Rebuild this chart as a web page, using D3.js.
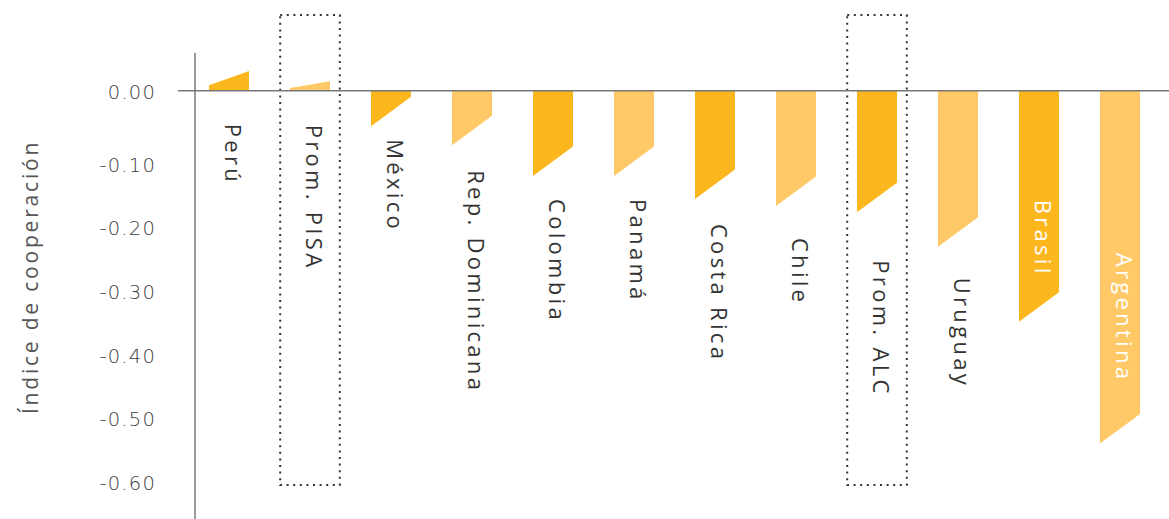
<!DOCTYPE html>
<html>
<head>
<meta charset="utf-8">
<script src="https://cdn.jsdelivr.net/npm/d3@7"></script>
<style>
  html, body { margin: 0; padding: 0; background: #ffffff; }
  svg { display: block; }
</style>
</head>
<body>
<svg id="chart" width="1169" height="519"></svg>
<script>
// ---- data ----
const categories = ["Perú", "Prom. PISA", "México", "Rep. Dominicana", "Colombia", "Panamá",
                    "Costa Rica", "Chile", "Prom. ALC", "Uruguay", "Brasil", "Argentina"];
const values = [0.027, 0.013, -0.049, -0.075, -0.12, -0.12, -0.156, -0.167, -0.177, -0.231, -0.349, -0.54];
const tickValues = [0, -0.1, -0.2, -0.3, -0.4, -0.5, -0.6];
const highlighted = ["Prom. PISA", "Prom. ALC"];
const insideLabels = ["Brasil", "Argentina"];
const axisTitle = "Índice de cooperación";

// ---- layout (px) ----
const labelGap = [33, 34, 13, 25, 23, 23, 25, 32, 48, 31, 109, 162];
const colors = ["#FDB71E", "#FEC966"];

const svg = d3.select("#chart");

const x = d3.scaleBand()
  .domain(categories)
  .range([188.5, 1160.5])
  .paddingInner(41 / 81)
  .paddingOuter(41 / 162);

const y = d3.scaleLinear()
  .domain([0, -0.1, -0.6])
  .range([90.7, 163.3, 481.7]);

const y0 = y(0);

// dotted highlight boxes
svg.append("g").selectAll("rect")
  .data(highlighted)
  .join("rect")
  .attr("x", d => x(d) + x.bandwidth() / 2 - 29.8)
  .attr("y", 15)
  .attr("width", 59.6)
  .attr("height", 470)
  .attr("fill", "none")
  .attr("stroke", "#333")
  .attr("stroke-width", 2)
  .attr("stroke-dasharray", "2 4.6");

// bars with slanted ends
const data = categories.map((c, i) => ({ c, v: values[i], i }));
svg.append("g").selectAll("path")
  .data(data)
  .join("path")
  .attr("fill", d => colors[d.i % 2])
  .attr("d", d => {
    const x0 = x(d.c), x1 = x0 + x.bandwidth();
    const yt = y(d.v);
    if (d.v < 0) {
      const s = 29.5;
      return `M${x0},${y0}L${x1},${y0}L${x1},${yt - s}L${x0},${yt}Z`;
    } else {
      const s = 0.72 * (y0 - yt);
      return `M${x0},${y0}L${x1},${y0}L${x1},${yt}L${x0},${yt + s}Z`;
    }
  });

// zero line
svg.append("line")
  .attr("x1", 178).attr("x2", 1169)
  .attr("y1", y0).attr("y2", y0)
  .attr("stroke", "#777").attr("stroke-width", 1.5);

// vertical axis line
svg.append("line")
  .attr("x1", 195).attr("x2", 195)
  .attr("y1", 53).attr("y2", 519)
  .attr("stroke", "#777").attr("stroke-width", 1.5);

// y axis tick labels
const yAxis = d3.axisLeft(y)
  .tickValues(tickValues)
  .tickFormat(d => d.toFixed(2))
  .tickSize(0)
  .tickPadding(39);
const ga = svg.append("g").attr("transform", "translate(195,1.5)").call(yAxis);
ga.select(".domain").remove();
ga.selectAll("text")
  .attr("font-family", "'DejaVu Sans', sans-serif")
  .attr("font-size", 19.5)
  .attr("font-weight", 200)
  .attr("letter-spacing", 1.2)
  .attr("fill", "#3d3d3d");

// axis title
svg.append("text")
  .attr("transform", "translate(38,277) rotate(-90)")
  .attr("text-anchor", "middle")
  .attr("font-family", "'Open Sans', sans-serif")
  .attr("font-size", 21)
  .attr("letter-spacing", 2.8)
  .attr("fill", "#555")
  .text(axisTitle);

// category labels (rotated)
svg.append("g").selectAll("text")
  .data(data)
  .join("text")
  .attr("transform", d => {
    const cx = x(d.c) + x.bandwidth() / 2 - 4;
    const inside = insideLabels.includes(d.c);
    const base = inside ? y0 : (d.v < 0 ? y(d.v) : y0);
    return `translate(${cx},${base + labelGap[d.i]}) rotate(90)`;
  })
  .attr("font-family", "'Open Sans', sans-serif")
  .attr("font-size", 22)
  .attr("letter-spacing", 3.3)
  .attr("fill", d => insideLabels.includes(d.c) ? "#ffffff" : "#333")
  .text(d => d.c);
</script>
</body>
</html>
